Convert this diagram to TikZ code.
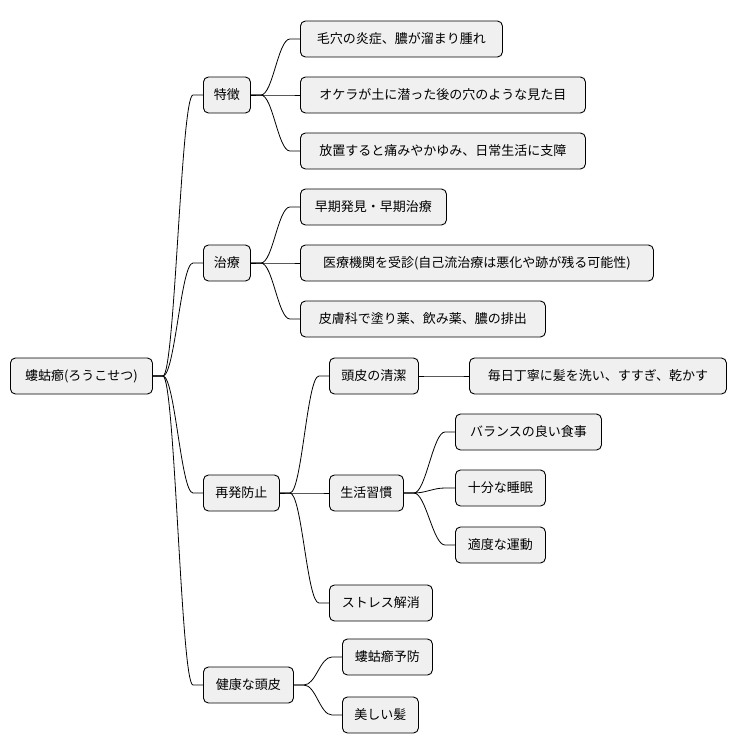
\documentclass[tikz,border=0pt]{standalone}
\usepackage{fontspec}
\newfontfamily\jp{Noto Sans CJK JP}
\usetikzlibrary{calc}
\begin{document}
\begin{tikzpicture}[x=1pt,y=-1pt,
  box/.style={draw=black,fill=black!6,rounded corners=5pt,line width=0.9pt,minimum height=36pt,inner xsep=0pt,anchor=west,font=\jp\fontsize{13pt}{15pt}\selectfont},
  con/.style={draw=black,line width=0.8pt}]
\useasboundingbox (0,0) rectangle (737,752);
\newcommand{\nd}[5]{\node[box,minimum width={#3-#2}] (#1) at (#2,#4) {#5};}
\nd{root}{10}{152}{376}{螻蛄癤(ろうこせつ)}
\nd{a}{203}{250}{95}{特徴}
\nd{a1}{300}{502}{39}{毛穴の炎症、膿が溜まり腫れ}
\nd{a2}{300}{585}{95}{オケラが土に潜った後の穴のような見た目}
\nd{a3}{300}{585}{151}{放置すると痛みやかゆみ、日常生活に支障}
\nd{b}{203}{250}{263}{治療}
\nd{b1}{300}{446}{207}{早期発見・早期治療}
\nd{b2}{300}{653}{263}{医療機関を受診(自己流治療は悪化や跡が残る可能性)}
\nd{b3}{300}{545}{319}{皮膚科で塗り薬、飲み薬、膿の排出}
\nd{c}{203}{279}{493}{再発防止}
\nd{c1}{329}{418}{376}{頭皮の清潔}
\nd{c11}{469}{726}{376}{毎日丁寧に髪を洗い、すすぎ、乾かす}
\nd{c2}{329}{403}{493}{生活習慣}
\nd{c21}{455}{601}{432}{バランスの良い食事}
\nd{c22}{455}{545}{488}{十分な睡眠}
\nd{c23}{455}{545}{545}{適度な運動}
\nd{c3}{329}{432}{603}{ストレス解消}
\nd{d}{203}{293}{685}{健康な頭皮}
\nd{d1}{342}{432}{657}{螻蛄癤予防}
\nd{d2}{342}{418}{715}{美しい髪}
\newcommand{\cn}[2]{\draw[con] (#1.east) -- ++(10,0) .. controls +(12,0) and ($(#2.west)+(-22,0)$) .. ($(#2.west)+(-10,0)$) -- (#2.west);}
\foreach \p/\q in {root/a,root/b,root/c,root/d,a/a1,a/a2,a/a3,b/b1,b/b2,b/b3,c/c1,c/c2,c/c3,c1/c11,c2/c21,c2/c22,c2/c23,d/d1,d/d2}{\cn{\p}{\q}}
\end{tikzpicture}
\end{document}
